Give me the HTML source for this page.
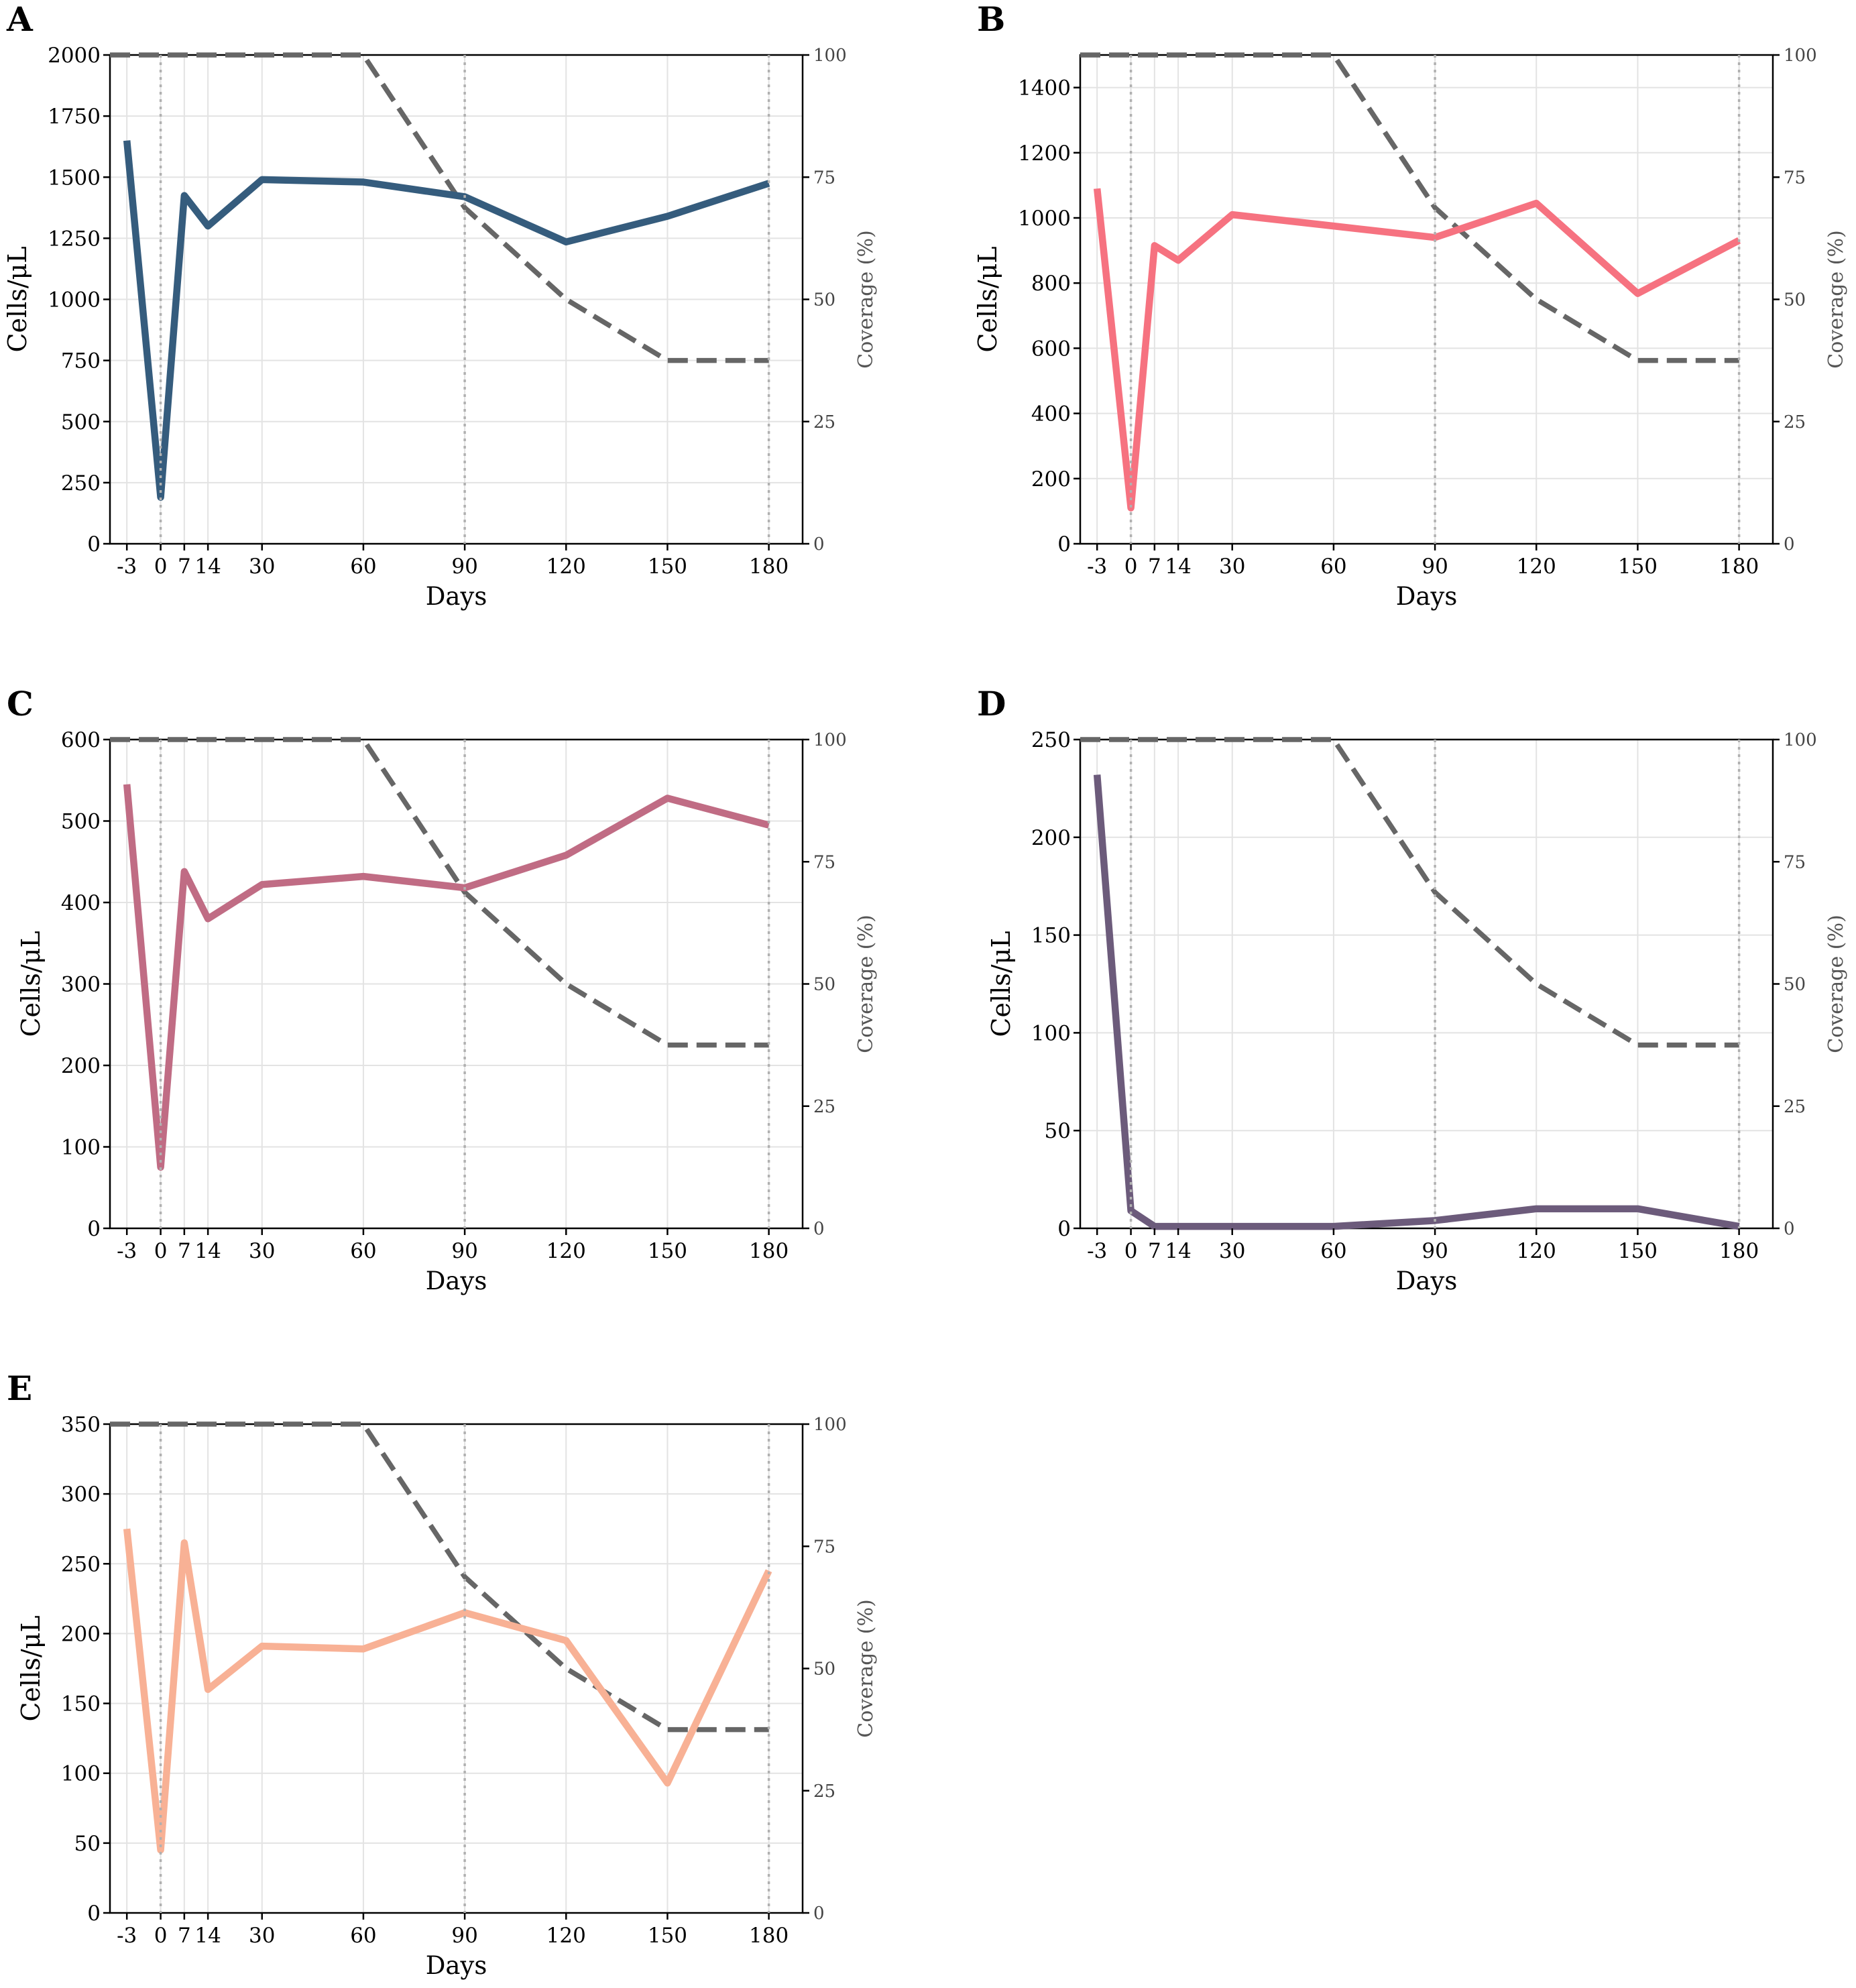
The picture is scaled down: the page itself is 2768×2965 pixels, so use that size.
<!DOCTYPE html>
<html><head><meta charset="utf-8"><style>
html,body{margin:0;padding:0;background:#fff;}
svg{display:block;font-family:"DejaVu Serif","Liberation Serif",serif;}
</style></head>
<body>
<svg id="fig" width="2768" height="2965" viewBox="0 0 2768 2965" xmlns="http://www.w3.org/2000/svg"></svg>
<script>
const dayLabels = ["-3","0","7","14","30","60","90","120","150","180"];
const dayPositions = [-10,0,7,14,30,60,90,120,150,180];
const coverageValues = [100,100,100,100,100,100,68.75,50,37.5,37.5];
const seriesA = [1650,190,1425,1300,1490,1480,1420,1235,1340,1475];
const seriesB = [1090,110,915,870,1010,975,940,1045,768,931];
const seriesC = [545,75,438,380,422,432,418,458,528,495];
const seriesD = [232,9,1,1,1,1,4,10,10,1];
const seriesE = [275,45,265,160,191,189,215,195,93,245];
const yTicksA = [0,250,500,750,1000,1250,1500,1750,2000];
const yTicksB = [0,200,400,600,800,1000,1200,1400];
const yTicksC = [0,100,200,300,400,500,600];
const yTicksD = [0,50,100,150,200,250];
const yTicksE = [0,50,100,150,200,250,300,350];
const covTicks = [0,25,50,75,100];
const panelLetters = ["A","B","C","D","E"];

const NS="http://www.w3.org/2000/svg";
const svg=document.getElementById('fig');
function mk(tag,attrs,parent){const e=document.createElementNS(NS,tag);for(const k in attrs)e.setAttribute(k,attrs[k]);(parent||svg).appendChild(e);return e;}

const panels=[
 {L:164,T:82,data:seriesA,ticks:yTicksA,ymax:2000,color:"#355c7d"},
 {L:1611,T:82,data:seriesB,ticks:yTicksB,ymax:1500,color:"#f67280"},
 {L:164,T:1103,data:seriesC,ticks:yTicksC,ymax:600,color:"#c06c84"},
 {L:1611,T:1103,data:seriesD,ticks:yTicksD,ymax:250,color:"#6c5b7b"},
 {L:164,T:2124,data:seriesE,ticks:yTicksE,ymax:350,color:"#f8b195"}
];
const W=1033,H=729,XMIN=-15,XMAX=190;

panels.forEach((p,i)=>{
 const g=mk('g',{});
 
 
 const xs=v=>p.L+(v-XMIN)/(XMAX-XMIN)*W;
 const ys=v=>p.T+H-v/p.ymax*H;
 const yc=v=>p.T+H-v/100*H;
 const B=p.T+H,R=p.L+W;
 const lt=mk('text',{x:p.L-154,y:p.T-36,'font-size':50,'font-weight':'bold',fill:'#000'},g);
 lt.textContent=panelLetters[i];
 
 
 p.ticks.forEach(t=>{
  const gl=mk('line',{x1:p.L,x2:R,y1:ys(t),y2:ys(t),stroke:'#e3e3e3','stroke-width':2},g);
  
  
 });
 dayPositions.forEach(d=>{
  const gl=mk('line',{x1:xs(d),x2:xs(d),y1:p.T,y2:B,stroke:'#e3e3e3','stroke-width':2},g);
  
  
 });
 const fr=mk('rect',{x:p.L,y:p.T,width:W,height:H,fill:'none',stroke:'#000','stroke-width':2.5},g);
 
 
 const cp=mk('polyline',{points:[[p.L,yc(coverageValues[0])]].concat(dayPositions.map((d,k)=>[xs(d),yc(coverageValues[k])])).map(a=>a.join(',')).join(' '),fill:'none',stroke:'#666','stroke-width':7.5,'stroke-dasharray':'30,13'},g);
 
 
 const sp=mk('polyline',{points:dayPositions.map((d,k)=>xs(d)+','+ys(p.data[k])).join(' '),fill:'none',stroke:p.color,'stroke-width':10.5,'stroke-linejoin':'round'},g);
 
 
 [0,90,180].forEach(d=>{
  const vl=mk('line',{x1:xs(d),x2:xs(d),y1:p.T,y2:B,stroke:'#b0b0b0','stroke-width':3.5,'stroke-dasharray':'4,7'},g);
  
  
 });
 p.ticks.forEach(t=>{
  mk('line',{x1:p.L-10,x2:p.L,y1:ys(t),y2:ys(t),stroke:'#000','stroke-width':2.5},g);
  const tx=mk('text',{x:p.L-14,y:ys(t)+11,'font-size':31,'text-anchor':'end',fill:'#000'},g);
  tx.textContent=t;
  
  
 });
 covTicks.forEach(t=>{
  mk('line',{x1:R,x2:R+10,y1:yc(t),y2:yc(t),stroke:'#000','stroke-width':2.5},g);
  const tx=mk('text',{x:R+16,y:yc(t)+9,'font-size':26,fill:'#444'},g);
  tx.textContent=t;
  
  
 });
 dayPositions.forEach((d,k)=>{
  mk('line',{x1:xs(d),x2:xs(d),y1:B,y2:B+10,stroke:'#000','stroke-width':2.5},g);
  const tx=mk('text',{x:xs(d),y:B+44,'font-size':31,'text-anchor':'middle',fill:'#000'},g);
  tx.textContent=dayLabels[k];
  
  
 });
 const xl=mk('text',{x:p.L+W/2,y:B+91,'font-size':37,'text-anchor':'middle',fill:'#000'},g);
 xl.textContent='Days';
 
 
 const nd=String(Math.max(...p.ticks)).length;
 const ylx=p.L-14-nd*20-44;
 const yl=mk('text',{x:ylx,y:p.T+H/2,'font-size':38,'text-anchor':'middle',fill:'#000',transform:`rotate(-90 ${ylx} ${p.T+H/2}) translate(0 13)`},g);
 yl.textContent='Cells/μL';
 
 
 const crx=R+94;
 const cl=mk('text',{x:crx,y:p.T+H/2,'font-size':30,'text-anchor':'middle',fill:'#555',transform:`rotate(-90 ${crx} ${p.T+H/2}) translate(0 10)`},g);
 cl.textContent='Coverage (%)';
 
 
});
</script>
</body></html>
